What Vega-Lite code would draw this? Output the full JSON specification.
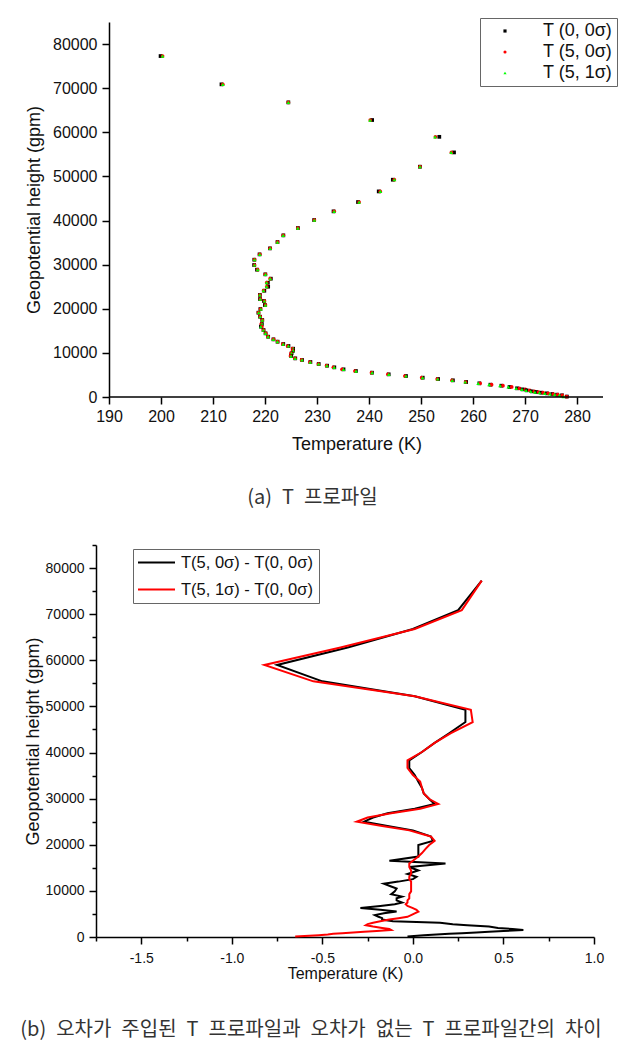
{
  "$schema": "https://vega.github.io/schema/vega-lite/v6.json",
  "background": "white",
  "padding": {"left": 20, "top": 17, "right": 0, "bottom": 0},
  "config": {
    "font": "Liberation Sans",
    "view": {"stroke": null},
    "axis": {
      "grid": false,
      "domainColor": "#000",
      "domainWidth": 1.5,
      "tickColor": "#000",
      "tickWidth": 1.5,
      "labelColor": "#111",
      "titleColor": "#111",
      "titleFontWeight": "normal",
      "labelFont": "Liberation Sans",
      "titleFont": "Liberation Sans",
      "labelOverlap": false,
      "labelFlush": false,
      "labelBound": false
    },
    "title": {
      "font": "Noto Sans CJK KR",
      "fontSize": 20,
      "fontWeight": "normal",
      "color": "#333",
      "orient": "bottom",
      "anchor": "middle",
      "frame": "group"
    }
  },
  "datasets": {
    "profile": [
      {"h": 77280, "t00": 199.92, "t50": 200.30, "t51": 200.30, "d50": 0.38, "d51": 0.38},
      {"h": 70870, "t00": 211.63, "t50": 211.88, "t51": 211.90, "d50": 0.25, "d51": 0.27},
      {"h": 66780, "t00": 224.49, "t50": 224.49, "t51": 224.50, "d50": 0.00, "d51": 0.01},
      {"h": 62780, "t00": 240.60, "t50": 240.24, "t51": 240.20, "d50": -0.36, "d51": -0.40},
      {"h": 58970, "t00": 253.52, "t50": 252.77, "t51": 252.70, "d50": -0.75, "d51": -0.82},
      {"h": 55440, "t00": 256.35, "t50": 255.85, "t51": 255.80, "d50": -0.50, "d51": -0.55},
      {"h": 52200, "t00": 249.79, "t50": 249.80, "t51": 249.80, "d50": 0.01, "d51": 0.01},
      {"h": 49250, "t00": 244.58, "t50": 244.87, "t51": 244.90, "d50": 0.29, "d51": 0.32},
      {"h": 46600, "t00": 241.87, "t50": 242.16, "t51": 242.20, "d50": 0.29, "d51": 0.33},
      {"h": 44190, "t00": 237.89, "t50": 238.09, "t51": 238.10, "d50": 0.20, "d51": 0.21},
      {"h": 42080, "t00": 233.18, "t50": 233.30, "t51": 233.30, "d50": 0.12, "d51": 0.12},
      {"h": 40110, "t00": 229.45, "t50": 229.50, "t51": 229.50, "d50": 0.05, "d51": 0.05},
      {"h": 38300, "t00": 226.33, "t50": 226.31, "t51": 226.30, "d50": -0.02, "d51": -0.03},
      {"h": 36640, "t00": 223.53, "t50": 223.51, "t51": 223.50, "d50": -0.02, "d51": -0.03},
      {"h": 35120, "t00": 222.40, "t50": 222.41, "t51": 222.40, "d50": 0.01, "d51": 0.00},
      {"h": 33690, "t00": 220.96, "t50": 220.99, "t51": 221.00, "d50": 0.03, "d51": 0.04},
      {"h": 32330, "t00": 218.95, "t50": 219.00, "t51": 219.00, "d50": 0.05, "d51": 0.05},
      {"h": 31120, "t00": 217.94, "t50": 218.00, "t51": 218.00, "d50": 0.06, "d51": 0.06},
      {"h": 29920, "t00": 217.91, "t50": 218.00, "t51": 218.00, "d50": 0.09, "d51": 0.09},
      {"h": 28860, "t00": 218.46, "t50": 218.58, "t51": 218.60, "d50": 0.12, "d51": 0.14},
      {"h": 27800, "t00": 220.06, "t50": 220.07, "t51": 220.10, "d50": 0.01, "d51": 0.04},
      {"h": 26820, "t00": 221.12, "t50": 220.98, "t51": 221.00, "d50": -0.14, "d51": -0.12},
      {"h": 25900, "t00": 220.55, "t50": 220.33, "t51": 220.30, "d50": -0.22, "d51": -0.25},
      {"h": 25000, "t00": 220.61, "t50": 220.34, "t51": 220.30, "d50": -0.27, "d51": -0.31},
      {"h": 24090, "t00": 219.87, "t50": 219.73, "t51": 219.70, "d50": -0.14, "d51": -0.17},
      {"h": 23120, "t00": 219.02, "t50": 219.02, "t51": 219.00, "d50": 0.00, "d51": -0.02},
      {"h": 22210, "t00": 219.04, "t50": 219.11, "t51": 219.10, "d50": 0.07, "d51": 0.06},
      {"h": 21760, "t00": 219.80, "t50": 219.90, "t51": 219.90, "d50": 0.10, "d51": 0.10},
      {"h": 20850, "t00": 219.98, "t50": 220.09, "t51": 220.10, "d50": 0.11, "d51": 0.12},
      {"h": 19940, "t00": 219.11, "t50": 219.14, "t51": 219.20, "d50": 0.03, "d51": 0.09},
      {"h": 19110, "t00": 218.73, "t50": 218.76, "t51": 218.80, "d50": 0.03, "d51": 0.07},
      {"h": 18200, "t00": 219.05, "t50": 219.08, "t51": 219.10, "d50": 0.03, "d51": 0.05},
      {"h": 17450, "t00": 219.47, "t50": 219.50, "t51": 219.50, "d50": 0.03, "d51": 0.03},
      {"h": 16540, "t00": 219.40, "t50": 219.27, "t51": 219.40, "d50": -0.13, "d51": 0.00},
      {"h": 15940, "t00": 219.22, "t50": 219.40, "t51": 219.20, "d50": 0.18, "d51": -0.02},
      {"h": 15180, "t00": 219.72, "t50": 219.70, "t51": 219.70, "d50": -0.02, "d51": -0.02},
      {"h": 14430, "t00": 220.11, "t50": 220.14, "t51": 220.10, "d50": 0.03, "d51": -0.01},
      {"h": 13670, "t00": 220.61, "t50": 220.58, "t51": 220.60, "d50": -0.03, "d51": -0.01},
      {"h": 13070, "t00": 221.62, "t50": 221.64, "t51": 221.60, "d50": 0.02, "d51": -0.02},
      {"h": 12540, "t00": 222.42, "t50": 222.42, "t51": 222.40, "d50": 0.00, "d51": -0.02},
      {"h": 12010, "t00": 223.51, "t50": 223.43, "t51": 223.50, "d50": -0.08, "d51": -0.01},
      {"h": 11560, "t00": 224.51, "t50": 224.35, "t51": 224.50, "d50": -0.16, "d51": -0.01},
      {"h": 10950, "t00": 225.41, "t50": 225.29, "t51": 225.40, "d50": -0.12, "d51": -0.01},
      {"h": 10500, "t00": 225.41, "t50": 225.32, "t51": 225.40, "d50": -0.09, "d51": -0.01},
      {"h": 9900, "t00": 225.11, "t50": 225.01, "t51": 225.10, "d50": -0.10, "d51": -0.01},
      {"h": 9290, "t00": 225.02, "t50": 224.90, "t51": 225.00, "d50": -0.12, "d51": -0.02},
      {"h": 8760, "t00": 225.82, "t50": 225.76, "t51": 225.80, "d50": -0.06, "d51": -0.02},
      {"h": 8390, "t00": 227.12, "t50": 227.03, "t51": 227.10, "d50": -0.09, "d51": -0.02},
      {"h": 7930, "t00": 228.73, "t50": 228.64, "t51": 228.70, "d50": -0.09, "d51": -0.03},
      {"h": 7480, "t00": 230.33, "t50": 230.27, "t51": 230.30, "d50": -0.06, "d51": -0.03},
      {"h": 7100, "t00": 231.94, "t50": 231.84, "t51": 231.90, "d50": -0.10, "d51": -0.04},
      {"h": 6720, "t00": 233.33, "t50": 233.15, "t51": 233.30, "d50": -0.18, "d51": -0.03},
      {"h": 6270, "t00": 235.10, "t50": 234.81, "t51": 235.10, "d50": -0.29, "d51": 0.00},
      {"h": 5890, "t00": 237.48, "t50": 237.30, "t51": 237.50, "d50": -0.18, "d51": 0.02},
      {"h": 5510, "t00": 240.57, "t50": 240.48, "t51": 240.60, "d50": -0.09, "d51": 0.03},
      {"h": 5140, "t00": 243.79, "t50": 243.63, "t51": 243.80, "d50": -0.16, "d51": 0.01},
      {"h": 4760, "t00": 247.11, "t50": 246.90, "t51": 247.10, "d50": -0.21, "d51": -0.01},
      {"h": 4380, "t00": 250.33, "t50": 250.14, "t51": 250.30, "d50": -0.19, "d51": -0.03},
      {"h": 4080, "t00": 253.28, "t50": 253.11, "t51": 253.20, "d50": -0.17, "d51": -0.08},
      {"h": 3780, "t00": 256.13, "t50": 255.96, "t51": 256.00, "d50": -0.17, "d51": -0.13},
      {"h": 3400, "t00": 258.68, "t50": 258.57, "t51": 258.50, "d50": -0.11, "d51": -0.18},
      {"h": 3100, "t00": 261.22, "t50": 261.37, "t51": 261.00, "d50": 0.15, "d51": -0.22},
      {"h": 2790, "t00": 263.35, "t50": 263.57, "t51": 263.10, "d50": 0.22, "d51": -0.25},
      {"h": 2560, "t00": 265.46, "t50": 265.76, "t51": 265.20, "d50": 0.30, "d51": -0.26},
      {"h": 2270, "t00": 267.02, "t50": 267.44, "t51": 266.80, "d50": 0.42, "d51": -0.22},
      {"h": 1970, "t00": 268.47, "t50": 268.94, "t51": 268.30, "d50": 0.47, "d51": -0.17},
      {"h": 1730, "t00": 269.53, "t50": 270.08, "t51": 269.40, "d50": 0.55, "d51": -0.13},
      {"h": 1510, "t00": 270.32, "t50": 270.93, "t51": 270.20, "d50": 0.61, "d51": -0.12},
      {"h": 1280, "t00": 271.30, "t50": 271.80, "t51": 271.10, "d50": 0.50, "d51": -0.20},
      {"h": 1130, "t00": 272.17, "t50": 272.59, "t51": 271.90, "d50": 0.42, "d51": -0.27},
      {"h": 980, "t00": 273.13, "t50": 273.48, "t51": 272.80, "d50": 0.35, "d51": -0.33},
      {"h": 830, "t00": 274.19, "t50": 274.46, "t51": 273.80, "d50": 0.27, "d51": -0.39},
      {"h": 680, "t00": 275.24, "t50": 275.44, "t51": 274.80, "d50": 0.20, "d51": -0.44},
      {"h": 530, "t00": 276.17, "t50": 276.30, "t51": 275.70, "d50": 0.13, "d51": -0.47},
      {"h": 380, "t00": 277.12, "t50": 277.18, "t51": 276.60, "d50": 0.06, "d51": -0.52},
      {"h": 100, "t00": 278.05, "t50": 278.02, "t51": 277.40, "d50": -0.03, "d51": -0.65}
    ]
  },
  "concat": [
    {
      "width": 507,
      "height": 375,
      "title": {"text": "(a)\u2002T\u2002프로파일", "dx": -37, "offset": 35},
      "layer": [
        {
          "data": {"name": "profile"},
          "transform": [{"fold": ["t00", "t50", "t51"], "as": ["series", "T"]}],
          "mark": {"type": "point", "filled": true, "opacity": 1, "size": 14},
          "encoding": {
            "x": {
              "field": "T", "type": "quantitative",
              "scale": {"domain": [187.5, 285], "nice": false, "zero": false},
              "axis": {
                "title": "Temperature (K)",
                "domain": false,
                "values": [190, 195, 200, 205, 210, 215, 220, 225, 230, 235, 240, 245, 250, 255, 260, 265, 270, 275, 280, 285],
                "format": "d",
                "labelExpr": "datum.value % 10 === 0 ? datum.label : ''",
                "tickSize": {"condition": {"test": "datum.value % 10 === 0", "value": 7}, "value": 4},
                "labelFontSize": 16,
                "titleFontSize": 18,
                "labelPadding": 4,
                "titlePadding": 11,
                "titleX": 260.5
              }
            },
            "y": {
              "field": "h", "type": "quantitative",
              "scale": {"domain": [0, 85000], "nice": false},
              "axis": {
                "title": "Geopotential height (gpm)",
                "offset": -13,
                "values": [0, 5000, 10000, 15000, 20000, 25000, 30000, 35000, 40000, 45000, 50000, 55000, 60000, 65000, 70000, 75000, 80000, 85000],
                "format": "d",
                "labelExpr": "datum.value % 10000 === 0 ? datum.label : ''",
                "tickSize": {"condition": {"test": "datum.value % 10000 === 0", "value": 7}, "value": 4},
                "labelFontSize": 16,
                "titleFontSize": 18,
                "labelPadding": 5,
                "titlePadding": 9
              }
            },
            "color": {
              "field": "series", "type": "nominal",
              "scale": {"domain": ["t00", "t50", "t51"], "range": ["#000000", "#ff0000", "#00ff00"]},
              "legend": {
                "title": null, "orient": "none", "legendX": 384, "legendY": -4,
                "labelExpr": "{'t00': 'T (0, 0σ)', 't50': 'T (5, 0σ)', 't51': 'T (5, 1σ)'}[datum.label]",
                "labelFontSize": 18, "labelFont": "Liberation Sans", "labelColor": "#111",
                "strokeColor": "#666", "fillColor": "#ffffff", "padding": 4,
                "symbolOffset": 12, "labelOffset": 29, "rowPadding": 3, "symbolSize": 10
              }
            },
            "shape": {
              "field": "series", "type": "nominal",
              "scale": {"domain": ["t00", "t50", "t51"], "range": ["square", "circle", "triangle-up"]},
              "legend": {
                "title": null, "orient": "none", "legendX": 384, "legendY": -4,
                "labelExpr": "{'t00': 'T (0, 0σ)', 't50': 'T (5, 0σ)', 't51': 'T (5, 1σ)'}[datum.label]",
                "labelFontSize": 18, "labelFont": "Liberation Sans", "labelColor": "#111",
                "strokeColor": "#666", "fillColor": "#ffffff", "padding": 4,
                "symbolOffset": 12, "labelOffset": 29, "rowPadding": 3, "symbolSize": 10
              }
            }
          }
        },
        {
          "data": {"values": [{}]},
          "mark": {"type": "rule", "color": "#000", "strokeWidth": 1.5},
          "encoding": {
            "x": {"datum": 190, "type": "quantitative"},
            "x2": {"datum": 285},
            "y": {"datum": 0, "type": "quantitative"}
          }
        }
      ]
    },
    {
      "width": 498,
      "height": 392,
      "title": {"text": "(b)\u2002오차가\u2002주입된\u2002T\u2002프로파일과\u2002오차가\u2002없는\u2002T\u2002프로파일간의\u2002차이", "dx": -34, "offset": 39},
      "data": {"name": "profile"},
      "transform": [{"fold": ["d50", "d51"], "as": ["series", "dT"]}],
      "mark": {"type": "line", "strokeWidth": 2},
      "encoding": {
        "x": {
          "field": "dT", "type": "quantitative",
          "scale": {"domain": [-1.75, 1.0], "nice": false, "zero": false},
          "axis": {
            "title": "Temperature (K)",
            "values": [-1.75, -1.5, -1.25, -1.0, -0.75, -0.5, -0.25, 0, 0.25, 0.5, 0.75, 1.0],
            "format": ".1f",
            "labelExpr": "abs(datum.value * 2 - round(datum.value * 2)) < 0.000001 ? replace(datum.label, '−', '-') : ''",
            "tickSize": {"condition": {"test": "abs(datum.value * 2 - round(datum.value * 2)) < 0.000001", "value": 7}, "value": 4},
            "labelFontSize": 14,
            "titleFontSize": 16,
            "labelPadding": 7,
            "titlePadding": 0
          }
        },
        "y": {
          "field": "h", "type": "quantitative",
          "scale": {"domain": [0, 85000], "nice": false},
          "axis": {
            "title": "Geopotential height (gpm)",
            "values": [0, 5000, 10000, 15000, 20000, 25000, 30000, 35000, 40000, 45000, 50000, 55000, 60000, 65000, 70000, 75000, 80000, 85000],
            "format": "d",
            "labelExpr": "datum.value % 10000 === 0 ? datum.label : ''",
            "tickSize": {"condition": {"test": "datum.value % 10000 === 0", "value": 7}, "value": 4},
            "labelFontSize": 14,
            "titleFontSize": 18,
            "labelPadding": 5,
            "titlePadding": 3
          }
        },
        "color": {
          "field": "series", "type": "nominal",
          "scale": {"domain": ["d50", "d51"], "range": ["#000000", "#ff0000"]},
          "legend": {
            "title": null, "orient": "none", "legendX": 37, "legendY": 4,
            "labelExpr": "{'d50': 'T(5, 0σ) - T(0, 0σ)', 'd51': 'T(5, 1σ) - T(0, 0σ)'}[datum.label]",
            "labelFontSize": 16.5, "labelFont": "Liberation Sans", "labelColor": "#111",
            "strokeColor": "#666", "fillColor": "#ffffff", "padding": 5,
            "symbolType": "stroke", "symbolSize": 1600, "symbolStrokeWidth": 2,
            "clipHeight": 17, "symbolOffset": -4, "labelOffset": 5, "rowPadding": 10
          }
        },
        "order": {"field": "h", "type": "quantitative"}
      }
    }
  ],
  "columns": 1,
  "spacing": 30,
  "resolve": {
    "scale": {"color": "independent", "shape": "independent", "x": "independent", "y": "independent"},
    "legend": {"color": "independent", "shape": "independent"}
  }
}
